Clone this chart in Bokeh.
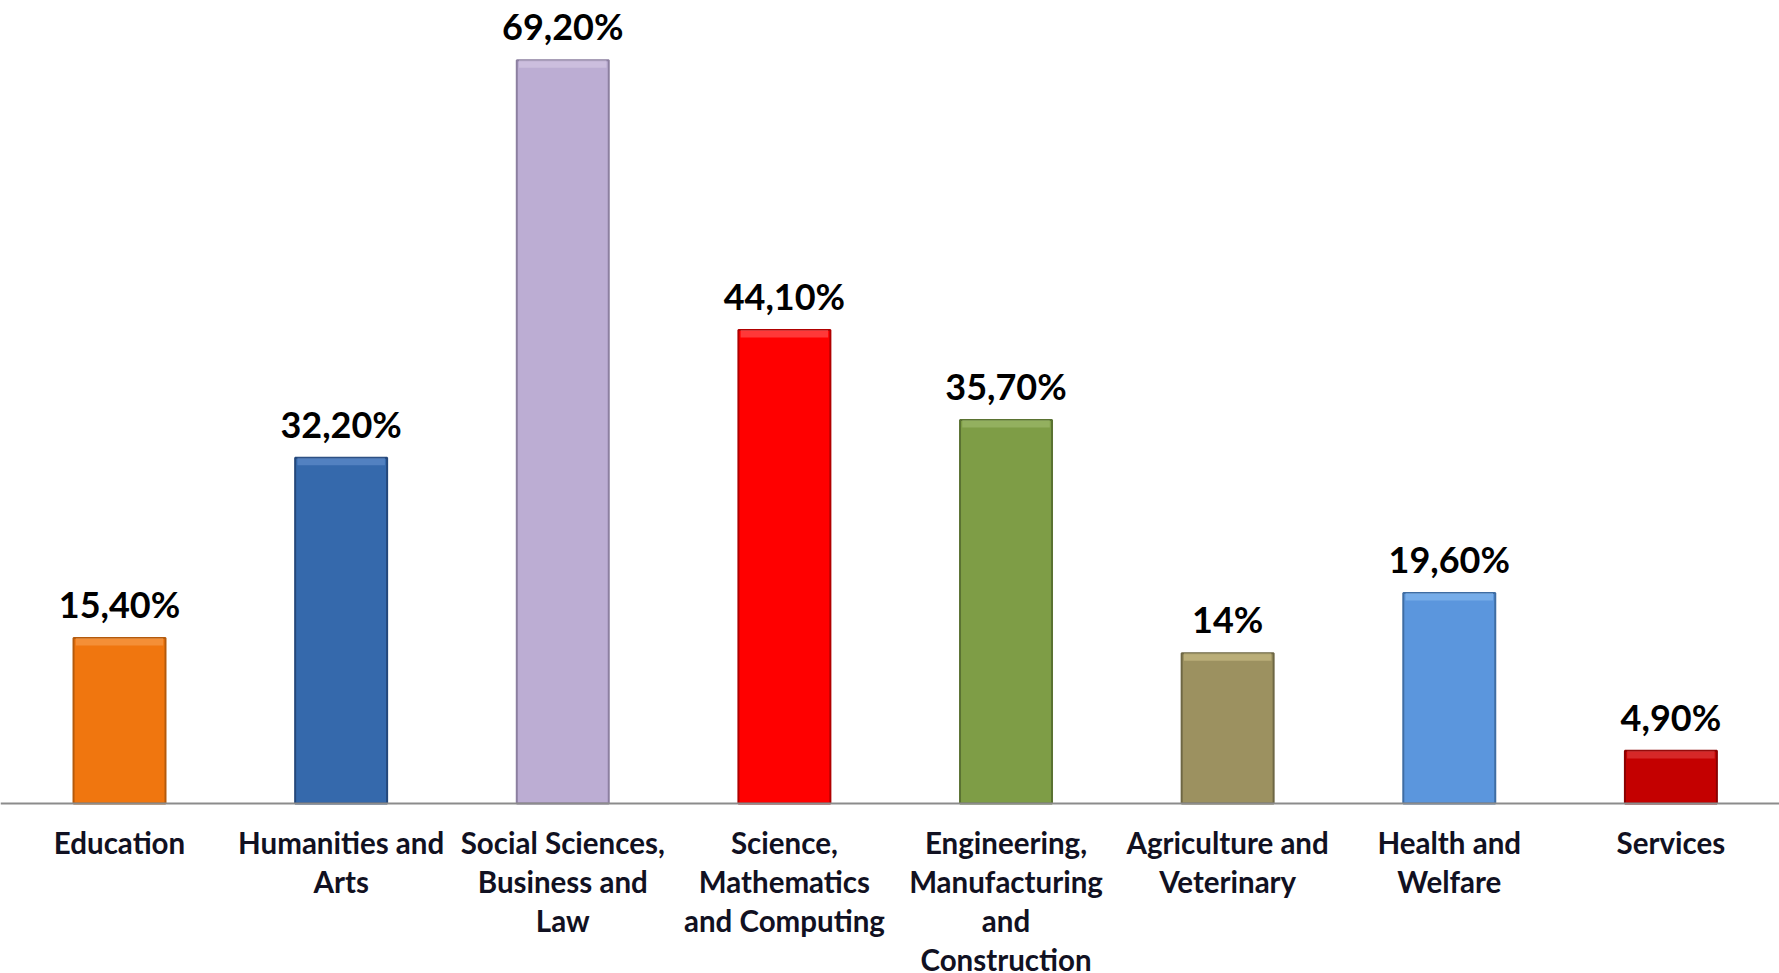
from bokeh.plotting import figure
from bokeh.models import ColumnDataSource, LabelSet, Span, Range1d
from bokeh.core.properties import value
from bokeh.embed import file_html
from bokeh.resources import INLINE

categories = ["Education", "Humanities and Arts", "Social Sciences, Business and Law",
              "Science, Mathematics and Computing",
              "Engineering, Manufacturing and Construction",
              "Agriculture and Veterinary", "Health and Welfare", "Services"]
tick_labels = ["Education", "Humanities and\nArts", "Social Sciences,\nBusiness and\nLaw",
               "Science,\nMathematics\nand Computing",
               "Engineering,\nManufacturing\nand\nConstruction",
               "Agriculture and\nVeterinary", "Health and\nWelfare", "Services"]
values = [15.4, 32.2, 69.2, 44.1, 35.7, 14.0, 19.6, 4.9]
value_labels = ["15,40%", "32,20%", "69,20%", "44,10%", "35,70%", "14%", "19,60%", "4,90%"]
colors = ["#F0760F", "#3569AC", "#BCADD3", "#FF0000", "#7E9D46", "#9C9160", "#5B96DD", "#C40000"]
edge_colors = ["#B45A0C", "#24477A", "#8C7FA0", "#B00000", "#5A7232", "#6E6744", "#3F6DA3", "#8A0000"]
highlight_colors = ["#F8A860", "#6F9AD6", "#DCD0EA", "#FF7070", "#A8C478", "#D8CC92", "#94C4F5", "#E85050"]

W, H = 1779, 973
pos = [i + 0.5 for i in range(len(categories))]

p = figure(width=W, height=H, x_range=Range1d(-0.037, 7.99),
           y_range=Range1d(-15.83, 74.77), output_backend="svg", toolbar_location=None,
           min_border=0, min_border_left=0, min_border_right=0, min_border_top=0,
           min_border_bottom=0)
p.axis.visible = False
p.grid.visible = False
p.outline_line_color = None
p.background_fill_color = "white"
p.border_fill_color = "white"

bevel = 0.7
src = ColumnDataSource(dict(x=pos, cat=categories, val=values, lab=value_labels, col=colors,
                            edge=edge_colors, hi=highlight_colors,
                            hi_bottom=[v - bevel for v in values]))

p.vbar(x="x", top="val", bottom=0, width=0.415, source=src, fill_color="col",
       line_color="edge", line_width=2)
p.vbar(x="x", top="val", bottom="hi_bottom", width=0.395, source=src,
       fill_color="hi", line_color=None, fill_alpha=0.5)

p.add_layout(Span(location=0, dimension="width", line_color="#8C8C8C", line_width=2))

p.add_layout(LabelSet(x="x", y="val", text="lab", source=src, text_align="center",
                      text_baseline="alphabetic", y_offset=20, text_font=value("Lato"),
                      text_font_style="bold", text_font_size="36px", text_color="#000000"))

# category labels, one row per text line
lx, ly, lt, lo = [], [], [], []
for xp, t in zip(pos, tick_labels):
    for k, line in enumerate(t.split("\n")):
        lx.append(xp)
        ly.append(0)
        lt.append(line)
        lo.append(39 + 39 * k)
lsrc = ColumnDataSource(dict(x=lx, y=ly, t=lt, o=lo))
p.text(x="x", y="y", text="t", source=lsrc, y_offset="o", text_align="center",
       text_baseline="alphabetic", text_font=value("Lato"), text_font_style="bold",
       text_font_size="29.5px", text_color="#111122")

open("out.html", "w").write(file_html(p, INLINE))
